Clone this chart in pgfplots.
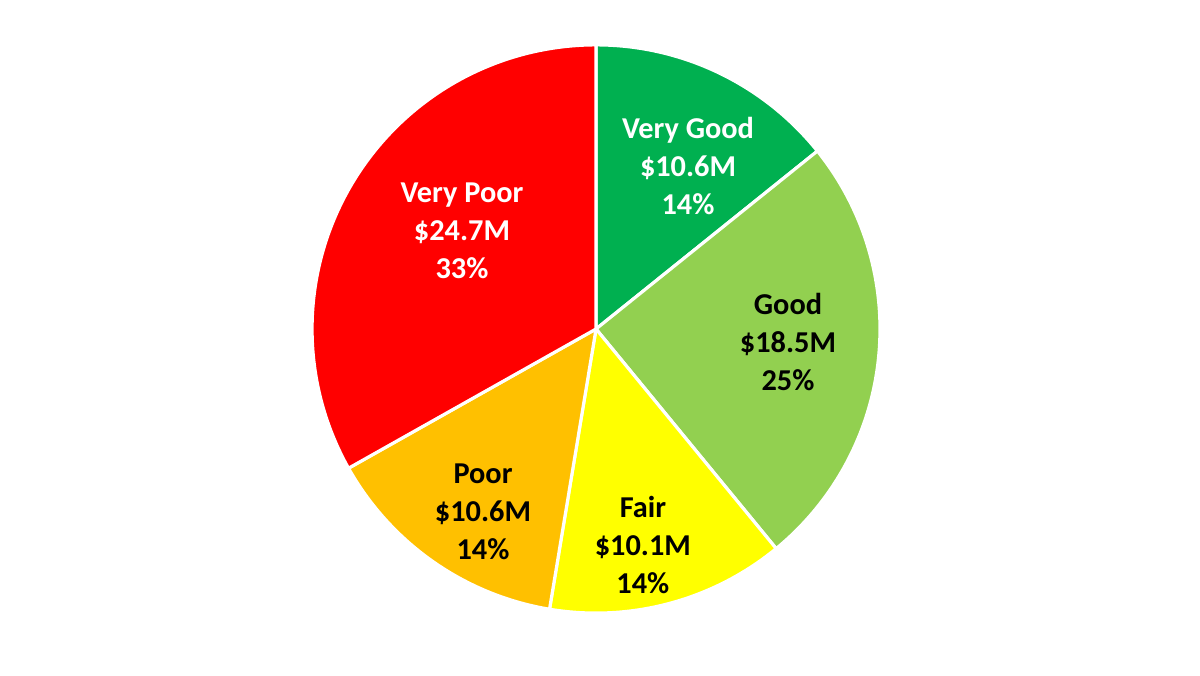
\documentclass[border=0pt]{standalone}
\usepackage{pgfplots}
\pgfplotsset{compat=1.18}
\usepackage{fontspec}
\setmainfont{Carlito}
\definecolor{cVG}{HTML}{00B050}
\definecolor{cG}{HTML}{92D050}
\definecolor{cF}{HTML}{FFFF00}
\definecolor{cP}{HTML}{FFC000}
\definecolor{cVP}{HTML}{FF0000}
\begin{document}
\begin{tikzpicture}
% values in $M: Very Good, Good, Fair, Poor, Very Poor
\def\vVG{10.6}\def\vG{18.5}\def\vF{10.1}\def\vP{10.6}\def\vVP{24.7}
\pgfmathsetmacro\tot{\vVG+\vG+\vF+\vP+\vVP}
\pgfmathsetmacro\aA{90}
\pgfmathsetmacro\aB{\aA-\vVG/\tot*360}
\pgfmathsetmacro\aC{\aB-\vG/\tot*360}
\pgfmathsetmacro\aD{\aC-\vF/\tot*360}
\pgfmathsetmacro\aE{\aD-\vP/\tot*360}
\pgfmathsetmacro\aF{\aE-\vVP/\tot*360}
\begin{axis}[
  hide axis, scale only axis, width=16cm, height=9cm,
  xmin=-2.099, xmax=2.127, ymin=-1.218, ymax=1.158,
  clip=false,
]
\path (rel axis cs:0,0) rectangle (rel axis cs:1,1);
\addplot[fill=cVG, draw=white, line width=1.2pt, domain=\aB:\aA, samples=80] ({cos(x)},{sin(x)}) -- (axis cs:0,0) -- cycle;
\addplot[fill=cG, draw=white, line width=1.2pt, domain=\aC:\aB, samples=120] ({cos(x)},{sin(x)}) -- (axis cs:0,0) -- cycle;
\addplot[fill=cF, draw=white, line width=1.2pt, domain=\aD:\aC, samples=80] ({cos(x)},{sin(x)}) -- (axis cs:0,0) -- cycle;
\addplot[fill=cP, draw=white, line width=1.2pt, domain=\aE:\aD, samples=80] ({cos(x)},{sin(x)}) -- (axis cs:0,0) -- cycle;
\addplot[fill=cVP, draw=white, line width=1.2pt, domain=\aF:\aE, samples=160] ({cos(x)},{sin(x)}) -- (axis cs:0,0) -- cycle;
\tikzset{lab/.style={align=center, font=\bfseries\fontsize{11.5}{14.4}\selectfont}}
\node[lab, text=white] at (axis cs:0.324,0.574) {Very Good\\\$10.6M\\14\%};
\node[lab, text=black] at (axis cs:0.676,-0.046) {Good\\\$18.5M\\25\%};
\node[lab, text=black] at (axis cs:0.165,-0.761) {Fair\\\$10.1M\\14\%};
\node[lab, text=black] at (axis cs:-0.398,-0.644) {Poor\\\$10.6M\\14\%};
\node[lab, text=white] at (axis cs:-0.472,0.345) {Very Poor\\\$24.7M\\33\%};
\end{axis}
\end{tikzpicture}
\end{document}
